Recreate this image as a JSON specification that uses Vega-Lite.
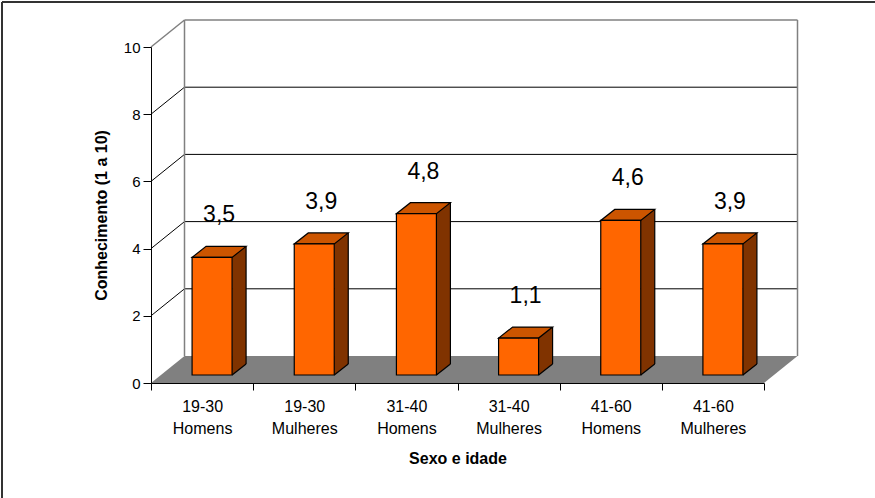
{
  "$schema": "https://vega.github.io/schema/vega-lite/v6.json",
  "width": 613,
  "height": 336,
  "autosize": {"type": "none"},
  "padding": {"left": 151, "top": 47, "right": 111, "bottom": 115},
  "background": "white",
  "config": {
    "font": "Liberation Sans",
    "view": {"stroke": null},
    "locale": {"number": {"decimal": ",", "thousands": ".", "grouping": [3], "currency": ["R$", ""]}}
  },
  "resolve": {"scale": {"x": "independent"}, "axis": {"x": "independent"}},
  "layer": [
    {
      "data": {"values": [{}]},
      "layer": [
        {
          "mark": {"type": "point", "shape": "M0,0 L613,0 L646.5,-27 L33.5,-27 Z", "size": 4, "filled": true, "fill": "#808080", "strokeWidth": 0, "opacity": 1},
          "encoding": {
            "x": {"datum": 0, "type": "quantitative", "scale": {"domain": [0, 6], "nice": false, "zero": false}, "axis": null},
            "y": {"datum": 0, "type": "quantitative"}
          }
        },
        {
          "data": {"values": [{"nivel": 2}, {"nivel": 4}, {"nivel": 6}, {"nivel": 8}]},
          "mark": {"type": "rule", "color": "black", "strokeWidth": 1, "xOffset": 33.5, "x2Offset": 33.5, "yOffset": -27},
          "encoding": {
            "x": {"datum": 0, "type": "quantitative", "axis": null},
            "x2": {"datum": 6},
            "y": {"field": "nivel", "type": "quantitative"}
          }
        },
        {
          "data": {"values": [{"nivel": 2}, {"nivel": 4}, {"nivel": 6}, {"nivel": 8}]},
          "mark": {"type": "rule", "color": "black", "strokeWidth": 1, "x2Offset": 33.5, "y2Offset": -27},
          "encoding": {
            "x": {"datum": 0, "type": "quantitative", "axis": null},
            "x2": {"datum": 0},
            "y": {"field": "nivel", "type": "quantitative"},
            "y2": {"field": "nivel"}
          }
        },
        {
          "mark": {"type": "rule", "color": "#808080", "strokeWidth": 1.5, "xOffset": 33.5, "x2Offset": 33.5, "yOffset": -27},
          "encoding": {
            "x": {"datum": 0, "type": "quantitative", "axis": null},
            "x2": {"datum": 6},
            "y": {"datum": 10, "type": "quantitative"}
          }
        },
        {
          "mark": {"type": "rule", "color": "#808080", "strokeWidth": 1.5, "x2Offset": 33.5, "y2Offset": -27},
          "encoding": {
            "x": {"datum": 0, "type": "quantitative", "axis": null},
            "x2": {"datum": 0},
            "y": {"datum": 10, "type": "quantitative"},
            "y2": {"datum": 10}
          }
        },
        {
          "data": {"values": [{"coluna": 0}, {"coluna": 6}]},
          "mark": {"type": "rule", "color": "#808080", "strokeWidth": 1.5, "xOffset": 33.5, "yOffset": -27, "y2Offset": -27},
          "encoding": {
            "x": {"field": "coluna", "type": "quantitative", "axis": null},
            "y": {"datum": 0, "type": "quantitative"},
            "y2": {"datum": 10}
          }
        },
        {
          "mark": {"type": "rule", "color": "#333333", "strokeWidth": 2, "xOffset": -149, "x2Offset": 111, "yOffset": -45},
          "encoding": {
            "x": {"datum": 0, "type": "quantitative", "axis": null},
            "x2": {"datum": 6},
            "y": {"datum": 10, "type": "quantitative"}
          }
        },
        {
          "mark": {"type": "rule", "color": "#333333", "strokeWidth": 2, "xOffset": -149, "yOffset": -45, "y2Offset": 115},
          "encoding": {
            "x": {"datum": 0, "type": "quantitative", "axis": null},
            "y": {"datum": 10, "type": "quantitative"},
            "y2": {"datum": 0}
          }
        }
      ]
    },
    {
      "data": {"values": [
        {"grupo": "19-30 Homens", "valor": 3.5},
        {"grupo": "19-30 Mulheres", "valor": 3.9},
        {"grupo": "31-40 Homens", "valor": 4.8},
        {"grupo": "31-40 Mulheres", "valor": 1.1},
        {"grupo": "41-60 Homens", "valor": 4.6},
        {"grupo": "41-60 Mulheres", "valor": 3.9}
      ]},
      "encoding": {
        "x": {
          "field": "grupo", "type": "nominal", "sort": null,
          "scale": {"type": "band", "paddingInner": 0, "paddingOuter": 0},
          "axis": {
            "title": "Sexo e idade", "titleFontSize": 16, "titleFontWeight": "bold", "titleColor": "black", "titlePadding": 14,
            "labelAngle": 0, "labelFontSize": 16, "labelColor": "black", "labelLineHeight": 22, "labelPadding": 8,
            "labelExpr": "split(datum.label, ' ')", "tickBand": "extent", "tickSize": 7, "tickColor": "black",
            "domainColor": "black", "domainWidth": 1, "tickWidth": 1, "zindex": 1
          }
        }
      },
      "layer": [
        {
          "mark": {"type": "bar", "width": 14, "xOffset": 37, "yOffset": -19, "y2Offset": -19, "fill": "#803300"},
          "encoding": {
            "y": {
              "field": "valor", "type": "quantitative",
              "scale": {"domain": [0, 10], "nice": false},
              "axis": {
                "title": "Conhecimento (1 a 10)", "values": [0, 2, 4, 6, 8, 10], "grid": false,
                "tickSize": 8, "labelPadding": 3, "labelFontSize": 15, "labelColor": "black",
                "tickColor": "black", "domainColor": "black", "titleFontSize": 16, "titleFontWeight": "bold",
                "titleColor": "black", "titlePadding": 14, "zindex": 1
              }
            },
            "y2": {"datum": 0}
          }
        },
        {
          "mark": {"type": "point", "shape": "M0,0 L0,-12 L14,-12 L14,-11 Z", "size": 4, "filled": true, "fill": "#803300", "strokeWidth": 0, "opacity": 1, "xOffset": 30, "yOffset": -8},
          "encoding": {"y": {"datum": 0, "type": "quantitative"}}
        },
        {
          "mark": {"type": "rule", "color": "black", "strokeWidth": 1.2, "xOffset": 44, "yOffset": -19, "y2Offset": -19},
          "encoding": {"y": {"field": "valor", "type": "quantitative"}, "y2": {"datum": 0}}
        },
        {
          "mark": {"type": "point", "shape": "M0,0 L14,-11", "size": 4, "filled": false, "stroke": "black", "strokeWidth": 1.2, "opacity": 1, "xOffset": 30, "yOffset": -8},
          "encoding": {"y": {"datum": 0, "type": "quantitative"}}
        },
        {
          "mark": {"type": "point", "shape": "M0,0 L40,0 L54,-11 L14,-11 Z", "size": 4, "filled": true, "fill": "#CC5500", "stroke": "black", "strokeWidth": 1.2, "opacity": 1, "xOffset": -10, "yOffset": -8},
          "encoding": {"y": {"field": "valor", "type": "quantitative"}}
        },
        {
          "mark": {"type": "bar", "width": 40, "xOffset": 10, "yOffset": -8, "y2Offset": -8, "fill": "#FF6600", "stroke": "black", "strokeWidth": 1.2},
          "encoding": {"y": {"field": "valor", "type": "quantitative"}, "y2": {"datum": 0}}
        },
        {
          "mark": {"type": "text", "fontSize": 23, "xOffset": 17, "yOffset": -50, "baseline": "middle", "align": "center", "color": "black"},
          "encoding": {
            "y": {"field": "valor", "type": "quantitative"},
            "text": {"field": "valor", "type": "quantitative", "format": ".1f"}
          }
        }
      ]
    }
  ]
}
